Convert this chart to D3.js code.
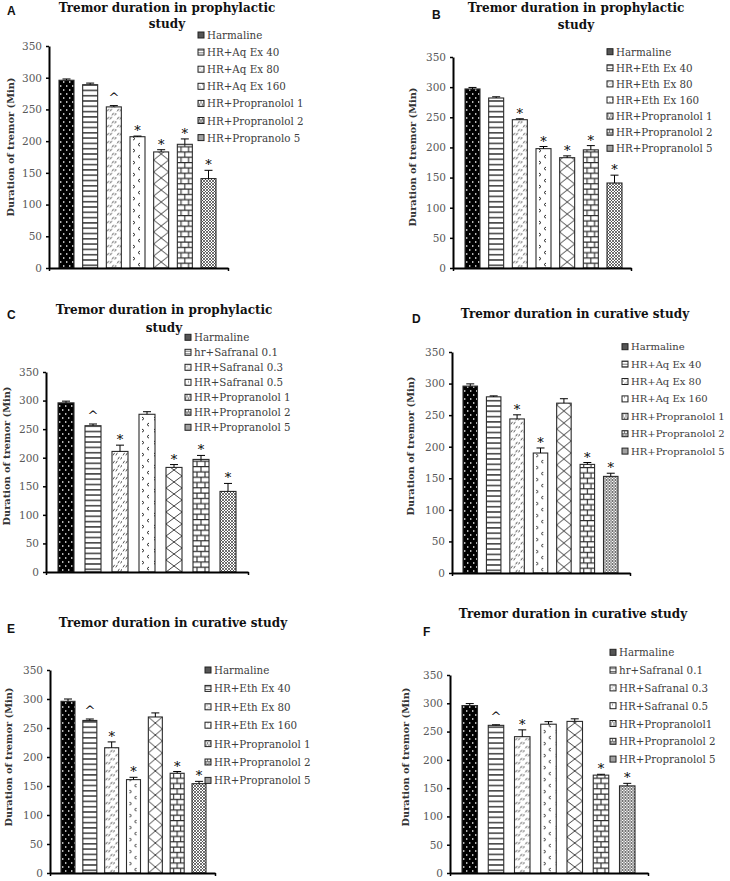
<!DOCTYPE html>
<html>
<head>
<meta charset="utf-8">
<script src="https://cdn.jsdelivr.net/npm/d3@7"></script>
<style>
  body { margin: 0; background: #fff; }
  svg text { font-family: "DejaVu Serif", serif; }
</style>
</head>
<body>
<svg id="chart"></svg>
<script>
var W = 730, H = 881;

// y axis ticks, shared by all panels
var yTicks = [0, 50, 100, 150, 200, 250, 300, 350];
var yTitle = "Duration of tremor (Min)";

// panel titles
var titleProphylactic = ["Tremor duration in prophylactic", "study"];
var titleCurative = ["Tremor duration in curative study"];

// legend labels (categories)
var namesA = ["Harmaline", "HR+Aq Ex 40", "HR+Aq Ex 80", "HR+Aq Ex 160", "HR+Propranolol 1", "HR+Propranolol 2", "HR+Propranolo 5"];
var namesB = ["Harmaline", "HR+Eth Ex 40", "HR+Eth Ex 80", "HR+Eth Ex 160", "HR+Propranolol 1", "HR+Propranolol 2", "HR+Propranolol 5"];
var namesC = ["Harmaline", "hr+Safranal 0.1", "HR+Safranal 0.3", "HR+Safranal 0.5", "HR+Propranolol 1", "HR+Propranolol 2", "HR+Propranolol 5"];
var namesD = ["Harmaline", "HR+Aq Ex 40", "HR+Aq Ex 80", "HR+Aq Ex 160", "HR+Propranolol 1", "HR+Propranolol 2", "HR+Propranolol 5"];
var namesE = ["Harmaline", "HR+Eth Ex 40", "HR+Eth Ex 80", "HR+Eth Ex 160", "HR+Propranolol 1", "HR+Propranolol 2", "HR+Propranolol 5"];
var namesF = ["Harmaline", "hr+Safranal 0.1", "HR+Safranal 0.3", "HR+Safranal 0.5", "HR+Propranolol1", "HR+Propranolol 2", "HR+Propranolol 5"];

// mean duration (min)
var valuesA = [296, 289, 254, 207, 183, 195, 141];
var valuesB = [297, 282, 246, 198, 183, 196, 141];
var valuesC = [296, 256, 211, 276, 183, 197, 141];
var valuesD = [296, 279, 244, 190, 269, 172, 153];
var valuesE = [296, 263, 216, 161, 269, 172, 154];
var valuesF = [296, 261, 241, 263, 268, 173, 154];

// SEM
var errorsA = [2, 2.5, 2, 1, 3.5, 8.5, 13];
var errorsB = [2.5, 2, 1.5, 3.5, 3, 7, 13];
var errorsC = [3, 3, 11, 4.5, 5, 7, 14];
var errorsD = [3.5, 1.5, 6.5, 8, 7, 3, 5];
var errorsE = [4, 2.5, 10, 4, 7, 3, 4];
var errorsF = [3.5, 1, 12, 4.5, 4.5, 1.5, 4.5];

// significance marks
var marksA = ["", "", "^", "*", "*", "*", "*"];
var marksB = ["", "", "*", "*", "*", "*", "*"];
var marksC = ["", "^", "*", "", "*", "*", "*"];
var marksD = ["", "", "*", "*", "", "*", "*"];
var marksE = ["", "^", "*", "*", "", "*", "*"];
var marksF = ["", "^", "*", "", "", "*", "*"];

// fill pattern of each group
var fills = ["dots", "hlines", "slash", "chev", "diamond", "brick", "check"];

// layout of each panel
var panels = [
  {letter: "A", title: titleProphylactic, names: namesA, values: valuesA, errors: errorsA, marks: marksA,
   ax: 49, axEnd: 228, yTop: 46, yBot: 268, b0: 59, b1: 216, bw: 15,
   tx: 167, ty: 12, tl: 16, lx: 7, ly: 15, gx: 198, gy: 35, gs: 17.1, gf: 10.3, ytx: 10, yty: 147},
  {letter: "B", title: titleProphylactic, names: namesB, values: valuesB, errors: errorsB, marks: marksB,
   ax: 453, axEnd: 631, yTop: 57, yBot: 268, b0: 465, b1: 622, bw: 15,
   tx: 576, ty: 12, tl: 17, lx: 432, ly: 19, gx: 607, gy: 51.7, gs: 16.1, gf: 10.3, ytx: 412, yty: 157},
  {letter: "C", title: titleProphylactic, names: namesC, values: valuesC, errors: errorsC, marks: marksC,
   ax: 46, axEnd: 248, yTop: 372, yBot: 572, b0: 58, b1: 236, bw: 16,
   tx: 164, ty: 314, tl: 18, lx: 7, ly: 319, gx: 185, gy: 337.3, gs: 15, gf: 10.3, ytx: 6, yty: 456},
  {letter: "D", title: titleCurative, names: namesD, values: valuesD, errors: errorsD, marks: marksD,
   ax: 452, axEnd: 630, yTop: 352, yBot: 573, b0: 463, b1: 618, bw: 14.5,
   tx: 575, ty: 318, tl: 18, lx: 412, ly: 323, gx: 622, gy: 346.7, gs: 17.4, gf: 10, ytx: 410, yty: 446},
  {letter: "E", title: titleCurative, names: namesE, values: valuesE, errors: errorsE, marks: marksE,
   ax: 50, axEnd: 215, yTop: 670, yBot: 873, b0: 61, b1: 206, bw: 14,
   tx: 173, ty: 627, tl: 18, lx: 7, ly: 633, gx: 205, gy: 670, gs: 18.4, gf: 10.3, ytx: 8, yty: 757},
  {letter: "F", title: titleCurative, names: namesF, values: valuesF, errors: errorsF, marks: marksF,
   ax: 450, axEnd: 648, yTop: 675, yBot: 873, b0: 462, b1: 635, bw: 15.5,
   tx: 573, ty: 618, tl: 18, lx: 423, ly: 636, gx: 610, gy: 652.3, gs: 17.8, gf: 10.3, ytx: 405, yty: 757}
];

var svg = d3.select("#chart").attr("width", W).attr("height", H);
var defs = svg.append("defs");
var ink = "#2b2b2b";

// fill patterns, anchored at a bar's left/bottom corner
function addPattern(id, type, ox, oy, bw, k) {
  var p = defs.append("pattern")
    .attr("id", id)
    .attr("patternUnits", "userSpaceOnUse")
    .attr("patternTransform", "translate(" + ox + "," + oy + ") scale(" + k + ")");
  var w = 10, h = 10;
  if (type == "dots") { w = 6; h = 8; }
  if (type == "hlines") { w = 10; h = 5.3; }
  if (type == "slash") { w = 10; h = 8; }
  if (type == "chev") { w = 12; h = 12; }
  if (type == "diamond") { w = bw; h = 12; }
  if (type == "brick") { w = bw; h = 10.6; }
  if (type == "check") { w = 3; h = 3; }
  p.attr("width", w).attr("height", h);
  p.append("rect").attr("width", w).attr("height", h)
    .attr("fill", type == "dots" ? "#000" : "#fff");

  if (type == "dots") {
    p.append("rect").attr("x", 1).attr("y", 1.3).attr("width", 1.4).attr("height", 1.4).attr("fill", "#fff");
    p.append("rect").attr("x", 4).attr("y", 5.3).attr("width", 1.4).attr("height", 1.4).attr("fill", "#fff");
  } else if (type == "hlines") {
    p.append("line").attr("x1", 0).attr("x2", w).attr("y1", 2.6).attr("y2", 2.6)
      .attr("stroke", ink).attr("stroke-width", 1.4);
  } else if (type == "slash") {
    p.append("path")
      .attr("d", "M1,3.4L2.6,0.8M3.8,3.4L5.4,0.8M5.8,7.4L7.4,4.8M8.6,7.4L10.2,4.8")
      .attr("stroke", ink).attr("stroke-width", 0.8).attr("fill", "none");
  } else if (type == "chev") {
    p.append("path")
      .attr("d", "M3,1L5,2.6L3,4.2M10,7L8,8.6L10,10.2")
      .attr("stroke", ink).attr("stroke-width", 1).attr("fill", "none");
  } else if (type == "diamond") {
    p.append("path")
      .attr("d", "M0,0L" + w + "," + h + "M" + w + ",0L0," + h)
      .attr("stroke", ink).attr("stroke-width", 0.9).attr("fill", "none");
  } else if (type == "brick") {
    p.append("path")
      .attr("d", "M0,0.6H" + w + "M0,5.9H" + w +
        "M" + (w / 2) + ",0.6V5.9M" + (w / 4) + ",5.9V11.2M" + (w * 3 / 4) + ",5.9V11.2")
      .attr("stroke", ink).attr("stroke-width", 1.1).attr("fill", "none");
  } else if (type == "check") {
    p.append("path")
      .attr("d", "M0,0L3,3M3,0L0,3")
      .attr("stroke", "#333").attr("stroke-width", 0.7).attr("fill", "none");
  }
}

panels.forEach(function(pn, pi) {
  var g = svg.append("g");
  var cats = pn.names;

  var step = (pn.b1 - pn.b0 - pn.bw) / (cats.length - 1);
  var x = d3.scaleBand()
    .domain(cats)
    .range([pn.b0, pn.b1])
    .paddingInner(1 - pn.bw / step)
    .paddingOuter(0);

  var y = d3.scaleLinear()
    .domain([0, 350])
    .range([pn.yBot, pn.yTop]);

  // bars
  cats.forEach(function(c, i) {
    addPattern("pat" + pi + "_" + i, fills[i], x(c), pn.yBot, x.bandwidth(), 1);
  });

  g.selectAll(".bar")
    .data(cats)
    .enter()
    .append("rect")
    .attr("class", "bar")
    .attr("x", function(d) { return x(d); })
    .attr("y", function(d, i) { return y(pn.values[i]); })
    .attr("width", x.bandwidth())
    .attr("height", function(d, i) { return pn.yBot - y(pn.values[i]); })
    .attr("fill", function(d, i) { return "url(#pat" + pi + "_" + i + ")"; })
    .attr("stroke", ink)
    .attr("stroke-width", 1.1);

  // error bars (upper only)
  var err = g.selectAll(".err")
    .data(cats)
    .enter()
    .append("g")
    .attr("class", "err")
    .attr("stroke", "#000")
    .attr("stroke-width", 1);
  err.append("line")
    .attr("x1", function(d) { return x(d) + x.bandwidth() / 2; })
    .attr("x2", function(d) { return x(d) + x.bandwidth() / 2; })
    .attr("y1", function(d, i) { return y(pn.values[i]); })
    .attr("y2", function(d, i) { return y(pn.values[i] + pn.errors[i]); });
  err.append("line")
    .attr("x1", function(d) { return x(d) + x.bandwidth() / 2 - 4; })
    .attr("x2", function(d) { return x(d) + x.bandwidth() / 2 + 4; })
    .attr("y1", function(d, i) { return y(pn.values[i] + pn.errors[i]); })
    .attr("y2", function(d, i) { return y(pn.values[i] + pn.errors[i]); });

  // significance marks
  g.selectAll(".mark")
    .data(cats)
    .enter()
    .append("text")
    .attr("class", "mark")
    .attr("x", function(d) { return x(d) + x.bandwidth() / 2; })
    .attr("y", function(d, i) { return y(pn.values[i] + pn.errors[i]) - (pn.marks[i] == "^" ? 4 : 1); })
    .attr("text-anchor", "middle")
    .attr("font-size", 13)
    .attr("fill", "#000")
    .text(function(d, i) { return pn.marks[i]; });

  // y axis
  var ya = g.append("g")
    .attr("transform", "translate(" + pn.ax + ",0)")
    .call(d3.axisLeft(y).tickValues(yTicks).tickSize(3).tickSizeOuter(0).tickPadding(4));
  ya.select(".domain").attr("stroke", "#000").attr("stroke-width", 2);
  ya.selectAll(".tick line").attr("stroke", "#000").attr("stroke-width", 1.5);
  ya.selectAll(".tick text")
    .attr("font-family", "DejaVu Serif")
    .attr("font-size", 10.5)
    .attr("fill", "#595959");

  // x axis (no labels, end ticks only)
  var xa = g.append("g")
    .attr("transform", "translate(0," + pn.yBot + ")")
    .call(d3.axisBottom(d3.scaleLinear().domain([0, 1]).range([pn.ax, pn.axEnd]))
      .tickValues([0, 1]).tickFormat("").tickSize(3).tickSizeOuter(0));
  xa.select(".domain").attr("stroke", "#000").attr("stroke-width", 2);
  xa.selectAll(".tick line").attr("stroke", "#000").attr("stroke-width", 1.5);

  // y axis title
  g.append("text")
    .attr("transform", "translate(" + pn.ytx + "," + pn.yty + ") rotate(-90)")
    .attr("text-anchor", "middle")
    .attr("dominant-baseline", "central")
    .attr("font-size", 9.8)
    .attr("font-weight", "bold")
    .attr("fill", "#333")
    .text(yTitle);

  // title
  pn.title.forEach(function(t, k) {
    g.append("text")
      .attr("x", pn.tx)
      .attr("y", pn.ty + k * pn.tl)
      .attr("text-anchor", "middle")
      .attr("font-size", 12)
      .attr("font-weight", "bold")
      .attr("fill", "#111")
      .text(t);
  });

  // panel letter
  g.append("text")
    .attr("x", pn.lx)
    .attr("y", pn.ly)
    .style("font-family", "Liberation Sans, Arial, sans-serif")
    .attr("font-size", 12)
    .attr("font-weight", "bold")
    .attr("fill", "#111")
    .text(pn.letter);

  // legend
  var lg = g.selectAll(".leg")
    .data(cats)
    .enter()
    .append("g")
    .attr("class", "leg")
    .attr("transform", function(d, i) { return "translate(" + pn.gx + "," + (pn.gy + i * pn.gs) + ")"; });
  cats.forEach(function(c, i) {
    addPattern("lpat" + pi + "_" + i, fills[i], pn.gx, pn.gy + i * pn.gs + 3, 6, 0.5);
  });
  lg.append("rect")
    .attr("x", 0)
    .attr("y", -3)
    .attr("width", 6)
    .attr("height", 6)
    .attr("fill", function(d, i) { return i == 0 ? "#555" : "url(#lpat" + pi + "_" + i + ")"; })
    .attr("stroke", "#222")
    .attr("stroke-width", 1);
  lg.append("text")
    .attr("x", 9)
    .attr("y", 0)
    .attr("dominant-baseline", "central")
    .attr("font-size", pn.gf)
    .attr("fill", "#404040")
    .text(function(d) { return d; });
});
</script>
</body>
</html>
